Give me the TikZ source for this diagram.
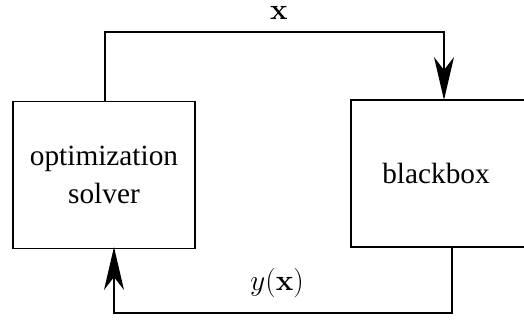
\RequirePackage{fix-cm}
\documentclass[tikz,border=0pt]{standalone}
\usepackage[no-math]{fontspec}
\setmainfont{Liberation Serif}
\usetikzlibrary{arrows.meta}
\begin{document}
\begin{tikzpicture}[x=1pt,y=-1pt,
  box/.style={draw,line width=1.8pt,minimum width=#1,minimum height=147pt,inner sep=0pt,font=\fontsize{29.3}{38}\selectfont,align=center},
  conn/.style={line width=1.8pt},
  arr/.style={conn,-{Stealth[length=43pt,width=20pt,inset=13pt]}},
  lbl/.style={font=\fontsize{29.5}{34}\selectfont,inner sep=0pt}]
\clip (0,0) rectangle (524,322);
\node[box=182pt] (solver) at (104,175) {optimization\\solver};
\node[box=180pt] (bb) at (441,173.5) {\hspace*{-10pt}\raisebox{-4pt}{blackbox}};
\coordinate (top) at (105,32);
\coordinate (bbin) at (444,100);
\coordinate (bbout) at (452,247);
\coordinate (bot) at (452,313);
\coordinate (solin) at (114,247);
\draw[arr] (solver.north -| top) -- (top) -| (bbin);
\draw[arr] (bbout) -- (bot) -| (solin);
\node[lbl,anchor=base] (xl) at (279,19) {$\mathbf{x}$};
\node[lbl,anchor=base] (yl) at (277,290) {$y(\mathbf{x})$};
\end{tikzpicture}
\end{document}
